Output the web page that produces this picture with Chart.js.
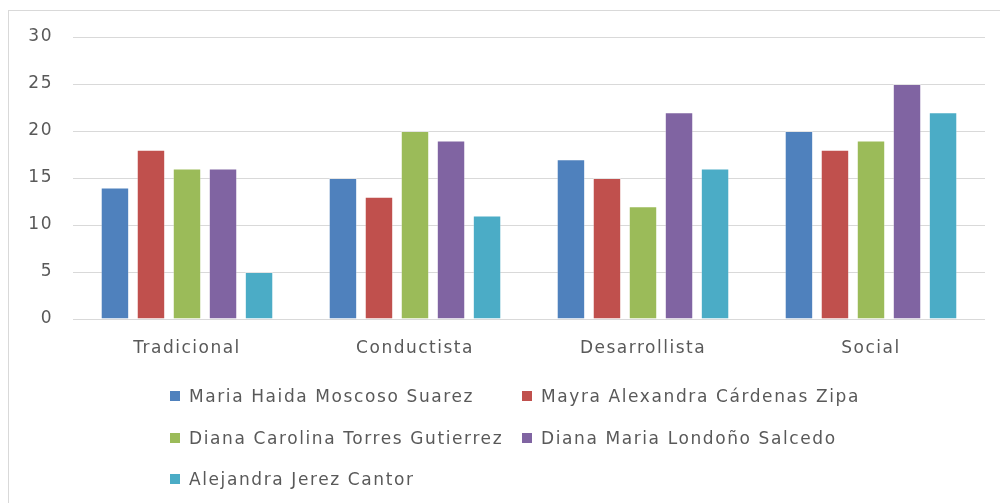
<!DOCTYPE html>
<html>
<head>
<meta charset="utf-8">
<script src="https://cdn.jsdelivr.net/npm/chart.js@4.4.1/dist/chart.umd.min.js"></script>
<style>
  html, body { margin: 0; padding: 0; background: #fff; }
  #wrap { position: relative; width: 1000px; height: 503px; overflow: hidden; }
  #frame { position: absolute; left: 8px; top: 10px; width: 1200px; height: 600px;
           border-top: 1px solid #d9d9d9; border-left: 1px solid #d9d9d9; }
  #myChart { position: absolute; left: 0; top: 0; }
  #legend { position: absolute; left: 170px; top: 385px; display: grid;
            grid-template-columns: 352px 352px; row-gap: 19.5px;
            font-family: 'DejaVu Sans', sans-serif; font-size: 17px; letter-spacing: 1.6px; color: #595959; }
  #legend div { display: flex; align-items: center; height: 22px; white-space: nowrap; }
  #legend span.box { width: 10px; height: 10px; margin-right: 9px; display: inline-block; }
</style>
</head>
<body>
<div id="wrap">
  <div id="frame"></div>
  <canvas id="myChart" width="1000" height="503"></canvas>
  <div id="legend"></div>
</div>
<script>
const ctx = document.getElementById('myChart');

const categories = ['Tradicional', 'Conductista', 'Desarrollista', 'Social']
const names = [
    'Maria Haida Moscoso Suarez',
    'Mayra Alexandra Cárdenas Zipa',
    'Diana Carolina Torres Gutierrez',
    'Diana Maria Londoño Salcedo',
    'Alejandra Jerez Cantor'
]
const maria = [14, 15, 17, 20]
const mayra = [18, 13, 15, 18]
const dianaCarolina = [16, 20, 12, 19]
const dianaMaria = [16, 19, 22, 25]
const alejandra = [5, 11, 16, 22]
const yTicks = [0, 5, 10, 15, 20, 25, 30]

const colors = ['#4F81BD', '#C0504D', '#9BBB59', '#8064A2', '#4BACC6']
const values = [maria, mayra, dianaCarolina, dianaMaria, alejandra]

const datasets = names.map((name, i) => ({
    label: name,
    data: values[i],
    backgroundColor: colors[i],
    borderColor: 'rgba(255,255,255,0.3)',
    borderWidth: 1,
    categoryPercentage: 0.79,
    barPercentage: 0.79,
}))

// legend in two columns, like the original
const htmlLegend = {
    id: 'htmlLegend',
    afterUpdate(chart) {
        const box = document.getElementById('legend')
        box.innerHTML = ''
        chart.data.datasets.forEach(ds => {
            const item = document.createElement('div')
            const sw = document.createElement('span')
            sw.className = 'box'
            sw.style.background = ds.backgroundColor
            item.appendChild(sw)
            item.appendChild(document.createTextNode(ds.label))
            box.appendChild(item)
        })
    }
}

// the original text is wide, spread the letters a bit
const spacing = {
    id: 'spacing',
    beforeLayout(chart) { chart.ctx.letterSpacing = '1.5px' },
    beforeDraw(chart) { chart.ctx.letterSpacing = '1.5px' },
}

const tickFont = { family: "'DejaVu Sans', sans-serif", size: 17 }

const config = {
    type: 'bar',
    data: { labels: categories, datasets },
    options: {
        responsive: false,
        animation: false,
        layout: { padding: { top: 37, right: 15, bottom: 0, left: 0 } },
        scales: {
            y: {
                min: 0,
                max: 30,
                afterFit(s) { s.width = 73 },
                afterBuildTicks(s) { s.ticks = yTicks.map(v => ({ value: v })) },
                grid: { color: '#d9d9d9', lineWidth: 1, drawTicks: false },
                border: { display: false },
                ticks: {
                    padding: 20,
                    color: '#595959',
                    font: tickFont,
                },
            },
            x: {
                afterFit(s) { s.height = 184 },
                grid: { display: false, drawTicks: false },
                border: { display: false },
                ticks: {
                    padding: 19,
                    color: '#595959',
                    maxRotation: 0,
                    font: tickFont,
                },
            },
        },
        plugins: {
            legend: { display: false },
            tooltip: { enabled: false },
        },
    },
    plugins: [htmlLegend, spacing]
}
const chart1 = new Chart(ctx, config)
</script>
</body>
</html>
